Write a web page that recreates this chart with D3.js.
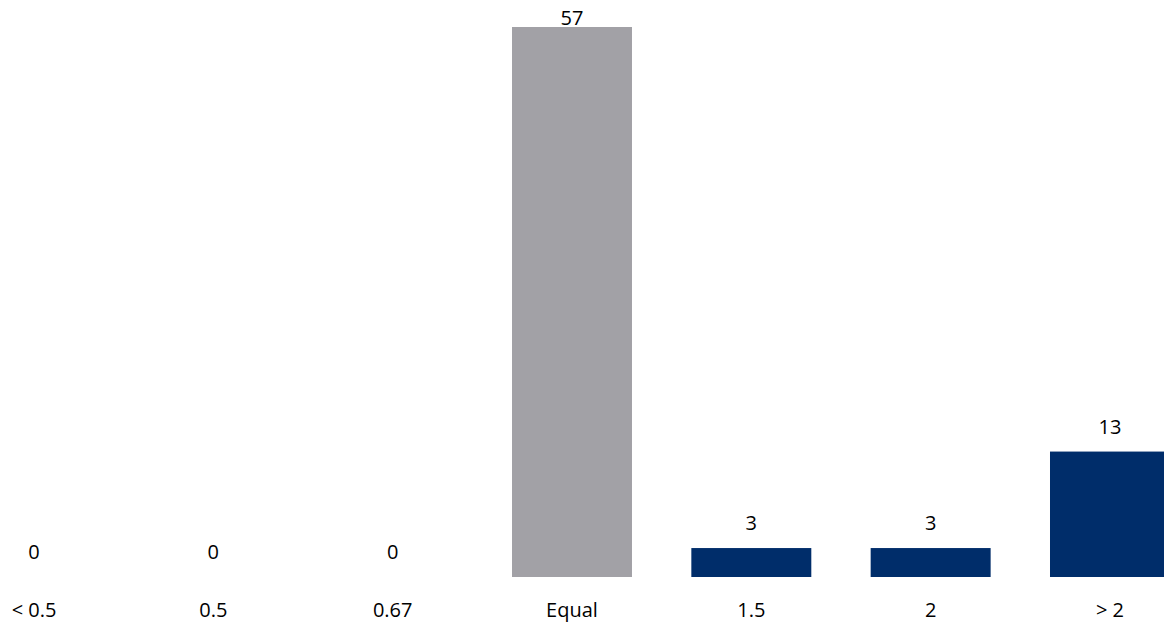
<!DOCTYPE html>
<html>
<head>
<meta charset="utf-8">
<script src="https://cdn.jsdelivr.net/npm/d3@7"></script>
<style>
html,body{margin:0;padding:0;background:#fff;}
svg{display:block;}
text{font-family:"Open Sans",sans-serif;fill:#000;}
</style>
</head>
<body>
<svg id="chart" width="1164" height="624"></svg>
<script>
const categories = ["< 0.5", "0.5", "0.67", "Equal", "1.5", "2", "> 2"];
const values = [0, 0, 0, 57, 3, 3, 13];
const barColors = ["#002d6a", "#002d6a", "#002d6a", "#a2a1a6", "#002d6a", "#002d6a", "#002d6a"];

const svg = d3.select("#chart");
const step = 179.33;
const x = d3.scaleBand()
  .domain(categories)
  .range([34 - step / 2, 34 - step / 2 + step * categories.length])
  .paddingInner(0.331)
  .paddingOuter(0.1655);
const y = d3.scaleLinear().domain([0, 57]).range([577, 27]);

svg.selectAll("rect.bar")
  .data(categories)
  .join("rect")
  .attr("class", "bar")
  .attr("x", d => x(d))
  .attr("width", x.bandwidth())
  .attr("y", (d, i) => y(values[i]))
  .attr("height", (d, i) => y(0) - y(values[i]))
  .attr("fill", (d, i) => barColors[i]);

svg.selectAll("text.val")
  .data(categories)
  .join("text")
  .attr("class", "val")
  .attr("x", d => x(d) + x.bandwidth() / 2)
  .attr("y", (d, i) => Math.max(y(values[i]) - 18, 25))
  .attr("text-anchor", "middle")
  .attr("font-size", 20)
  .text((d, i) => values[i]);

const xAxis = d3.axisBottom(x).tickSize(0).tickPadding(0);
const gx = svg.append("g").attr("transform", "translate(0,577)").call(xAxis);
gx.select(".domain").remove();
gx.selectAll("text")
  .attr("dy", null)
  .attr("y", 40)
  .attr("font-size", 20)
  .attr("font-family", "Open Sans, sans-serif")
  .attr("fill", "#000");
</script>
</body>
</html>
